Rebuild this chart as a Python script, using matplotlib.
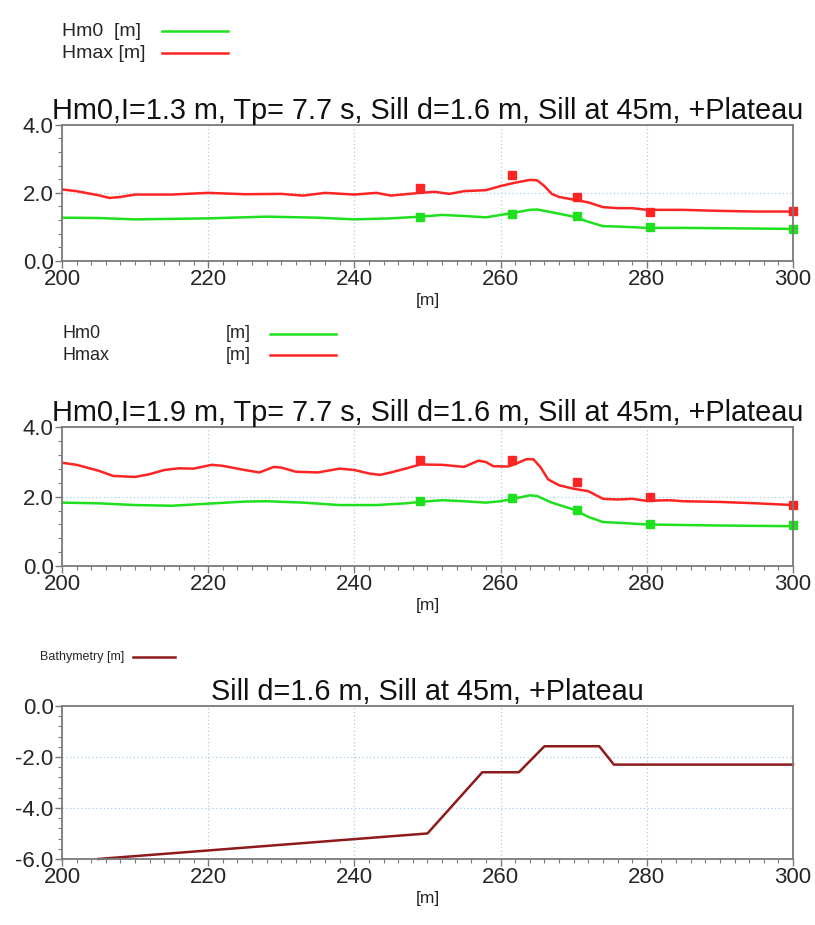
import matplotlib.pyplot as plt
import numpy as np
from matplotlib.lines import Line2D
from matplotlib.ticker import MultipleLocator, FormatStrFormatter

plt.rcParams["font.family"] = ["Liberation Sans", "DejaVu Sans"]
plt.rcParams["axes.unicode_minus"] = False

# ---- panel 1: H = 1.3 m ----
x1_hmax = [200, 202, 205, 206.5, 208, 210, 215, 220, 225, 230, 233, 236, 240, 243, 245,
           249, 251, 253, 255, 258, 260, 262, 264, 265, 266, 267, 268, 270, 272, 274,
           276, 278, 280, 285, 290, 295, 300]
y1_hmax = [2.1, 2.05, 1.93, 1.85, 1.88, 1.95, 1.95, 2.0, 1.96, 1.97, 1.92, 2.0, 1.95, 2.0, 1.92,
           2.0, 2.03, 1.97, 2.05, 2.08, 2.2, 2.3, 2.38, 2.37, 2.2, 1.97, 1.88, 1.8, 1.72, 1.58,
           1.55, 1.55, 1.5, 1.5, 1.47, 1.45, 1.45]
x1_hm0 = [200, 205, 210, 220, 228, 235, 240, 245, 249, 252, 255, 258, 260, 262, 264, 265,
          267, 270, 272, 274, 276, 280, 285, 290, 300]
y1_hm0 = [1.27, 1.26, 1.22, 1.25, 1.3, 1.27, 1.22, 1.25, 1.3, 1.35, 1.32, 1.28, 1.35, 1.42,
          1.5, 1.51, 1.43, 1.3, 1.15, 1.02, 1.01, 0.97, 0.97, 0.96, 0.94]
obs_x = [249, 261.5, 270.5, 280.5, 300]
obs1_hmax = [2.13, 2.52, 1.88, 1.43, 1.46]
obs1_hm0 = [1.29, 1.37, 1.31, 1.0, 0.94]

# ---- panel 2: H = 1.9 m ----
x2_hmax = [200, 202, 205, 207, 210, 212, 214, 216, 218, 220.5, 222, 225, 227, 229, 230, 232,
           235, 238, 240, 242, 243.5, 245, 247, 249, 252, 255, 257, 258, 259, 261, 262, 263.5,
           264.5, 265.5, 266.5, 268, 270, 272, 274, 276, 278, 280, 283, 285, 290, 295, 300]
y2_hmax = [2.98, 2.92, 2.75, 2.6, 2.57, 2.65, 2.77, 2.82, 2.81, 2.92, 2.89, 2.77, 2.7, 2.86,
           2.84, 2.72, 2.7, 2.81, 2.77, 2.67, 2.63, 2.7, 2.81, 2.93, 2.92, 2.86, 3.04, 3.0,
           2.88, 2.87, 2.94, 3.08, 3.08, 2.84, 2.5, 2.33, 2.23, 2.16, 1.94, 1.92, 1.94, 1.88,
           1.9, 1.87, 1.85, 1.81, 1.76]
x2_hm0 = [200, 205, 210, 215, 220, 225, 228, 233, 238, 243, 247, 249, 252, 255, 258, 260, 262,
          264, 265, 267, 270, 272, 274, 276, 280, 290, 300]
y2_hm0 = [1.83, 1.81, 1.76, 1.74, 1.8, 1.86, 1.87, 1.83, 1.76, 1.76, 1.81, 1.85, 1.9, 1.87,
          1.83, 1.87, 1.95, 2.04, 2.02, 1.83, 1.63, 1.42, 1.27, 1.25, 1.2, 1.17, 1.15]
obs2_hmax = [3.06, 3.06, 2.42, 1.99, 1.75]
obs2_hm0 = [1.87, 1.97, 1.61, 1.21, 1.18]

# ---- panel 3: bathymetry ----
x3_bath = [205, 250, 257.5, 262.5, 266, 273.5, 275.5, 300]
y3_bath = [-6.0, -5.0, -2.6, -2.6, -1.58, -1.58, -2.3, -2.3]

GREEN = "#1fe01f"
RED = "#ff2424"
BATH = "#8e1a1a"
GRID = "#a8ccf0"
FRAME = "#7a7a7a"

fig = plt.figure(figsize=(8.15, 9.25), dpi=100)
L, W = 0.076, 0.897
ax1 = fig.add_axes([L, 0.718, W, 0.147])
ax2 = fig.add_axes([L, 0.388, W, 0.150])
ax3 = fig.add_axes([L, 0.0714, W, 0.1654])


def style(ax, ylim, ymajor, title):
    ax.set_xlim(200, 300)
    ax.set_ylim(*ylim)
    ax.xaxis.set_major_locator(MultipleLocator(20))
    ax.xaxis.set_minor_locator(MultipleLocator(2))
    ax.yaxis.set_major_locator(MultipleLocator(ymajor))
    ax.yaxis.set_minor_locator(MultipleLocator(0.4))
    ax.yaxis.set_major_formatter(FormatStrFormatter("%.1f"))
    ax.grid(True, which="major", color=GRID, linestyle=(0, (1, 2)), linewidth=0.9)
    ax.tick_params(which="major", length=5, width=1, color=FRAME, labelsize=16,
                   labelcolor="#262626", pad=1)
    ax.tick_params(which="minor", length=3, width=0.8, color=FRAME)
    for s in ax.spines.values():
        s.set_color(FRAME)
        s.set_linewidth(1.3)
    ax.set_xlabel("[m]", fontsize=12.5, color="#222222", labelpad=2)
    ax.set_title(title, fontsize=20.8, color="#111111", pad=4)


ax1.plot(x1_hmax, y1_hmax, color=RED, lw=1.8)
ax1.plot(x1_hm0, y1_hm0, color=GREEN, lw=1.8)
ax1.plot(obs_x, obs1_hmax, "s", color=RED, ms=5.5, clip_on=False)
ax1.plot(obs_x, obs1_hm0, "s", color=GREEN, ms=5.5, clip_on=False)
style(ax1, (0, 4), 2, "Hm0,I=1.3 m, Tp= 7.7 s, Sill d=1.6 m, Sill at 45m, +Plateau")

ax2.plot(x2_hmax, y2_hmax, color=RED, lw=1.8)
ax2.plot(x2_hm0, y2_hm0, color=GREEN, lw=1.8)
ax2.plot(obs_x, obs2_hmax, "s", color=RED, ms=5.5, clip_on=False)
ax2.plot(obs_x, obs2_hm0, "s", color=GREEN, ms=5.5, clip_on=False)
style(ax2, (0, 4), 2, "Hm0,I=1.9 m, Tp= 7.7 s, Sill d=1.6 m, Sill at 45m, +Plateau")

ax3.plot(x3_bath, y3_bath, color=BATH, lw=1.8, clip_on=False)
style(ax3, (-6, 0), 2, "Sill d=1.6 m, Sill at 45m, +Plateau")


# legends drawn as text + short line samples (text left, line right)
def legend_row(xt, yt, label, xl0, xl1, color, size=14):
    fig.text(xt / 815, 1 - yt / 925, label, fontsize=size, color="#262626", va="center")
    fig.add_artist(Line2D([xl0 / 815, xl1 / 815], [1 - yt / 925, 1 - yt / 925],
                          color=color, lw=1.8, transform=fig.transFigure))


legend_row(62, 31, "Hm0  [m]", 162, 228, GREEN)
legend_row(62, 53, "Hmax [m]", 162, 228, RED)

legend_row(62, 334, "Hm0", 270, 336, GREEN, size=13)
fig.text(226 / 815, 1 - 334 / 925, "[m]", fontsize=13, color="#262626", va="center")
legend_row(62, 355, "Hmax", 270, 336, RED, size=13)
fig.text(226 / 815, 1 - 355 / 925, "[m]", fontsize=13, color="#262626", va="center")

legend_row(40, 657, "Bathymetry [m]", 133, 175, BATH, size=9)

fig.savefig("out.png", dpi=100, facecolor="white")
